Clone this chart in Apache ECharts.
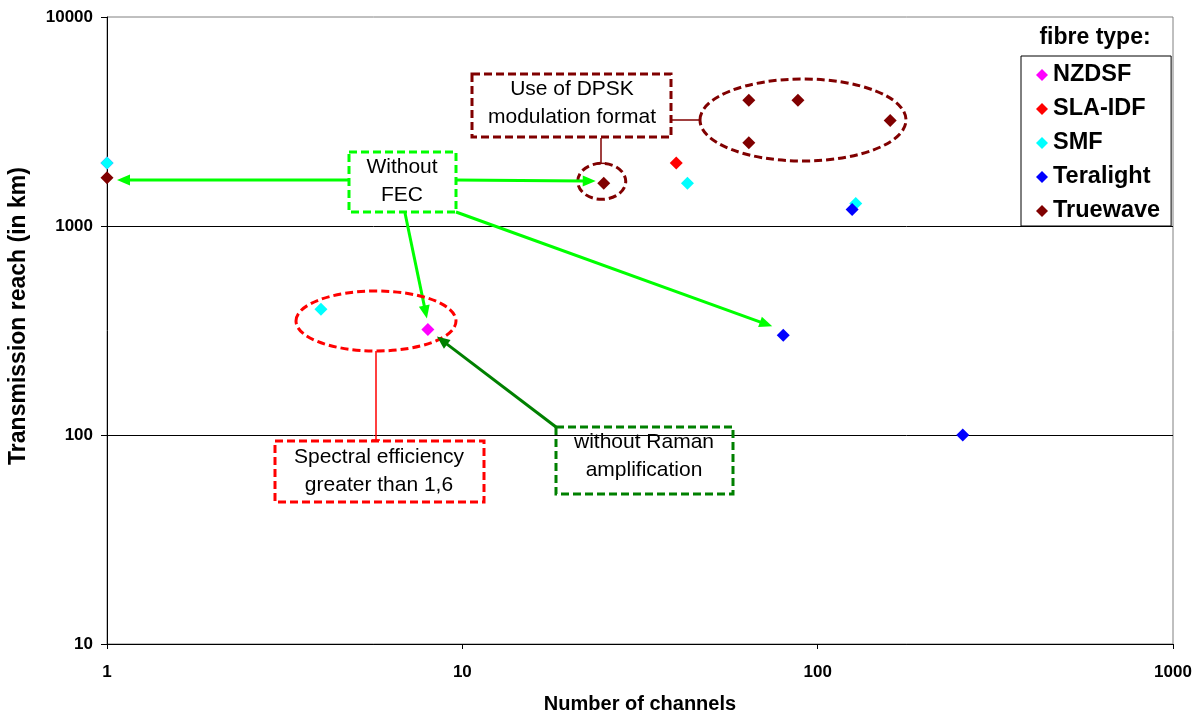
<!DOCTYPE html>
<html>
<head>
<meta charset="utf-8">
<script src="https://cdn.jsdelivr.net/npm/echarts@6/dist/echarts.min.js"></script>
<style>
  html, body { margin: 0; padding: 0; background: #fff; }
  #chart { width: 1200px; height: 715px; }
</style>
</head>
<body>
<div id="chart"></div>
<script>
// Fibre types shown in the legend
const fibreTypes = ['NZDSF', 'SLA-IDF', 'SMF', 'Teralight', 'Truewave'];
const fibreColors = ['#FF00FF', '#FF0000', '#00FFFF', '#0000FF', '#800000'];

// [number of channels, transmission reach in km]
const nzdsf     = [[1, 2000], [8, 320]];
const slaIdf    = [[40, 2000]];
const smf       = [[1, 2000], [4, 400], [43, 1600], [128, 1280]];
const teralight = [[80, 300], [125, 1200], [256, 100]];
const truewave  = [[1, 1700], [25, 1600], [64, 4000], [64, 2500], [88, 4000], [160, 3200]];
const seriesData = [nzdsf, slaIdf, smf, teralight, truewave];

// Axis ranges
const xRange = [1, 1000];
const yRange = [10, 10000];

const FONT = '"Liberation Sans", Arial, sans-serif';

const chart = echarts.init(document.getElementById('chart'), null, { renderer: 'canvas' });

chart.setOption({
  animation: false,
  backgroundColor: '#fff',
  textStyle: { fontFamily: FONT },
  grid: {
    left: 107, right: 27, top: 17, bottom: 71,
    show: true, borderColor: '#808080', borderWidth: 1,
    containLabel: false, outerBoundsMode: 'none'
  },
  legend: {
    orient: 'vertical',
    left: 1021, top: 56,
    itemWidth: 12, itemHeight: 12, itemGap: 10,
    icon: 'diamond',
    borderColor: '#000', borderWidth: 1,
    backgroundColor: '#fff',
    padding: [7, 11, 3, 15],
    selectedMode: false,
    textStyle: { fontFamily: FONT, fontSize: 23.5, fontWeight: 'bold', color: '#000' },
    data: fibreTypes
  },
  xAxis: {
    type: 'log', logBase: 10, min: xRange[0], max: xRange[1],
    name: 'Number of channels', nameLocation: 'middle', nameGap: 50,
    nameTextStyle: { fontFamily: FONT, fontSize: 20, fontWeight: 'bold', color: '#000' },
    axisLine: { lineStyle: { color: '#000', width: 1 } },
    axisTick: { length: 5, lineStyle: { color: '#000' } },
    axisLabel: { fontFamily: FONT, fontSize: 17, fontWeight: 'bold', color: '#000', margin: 20,
      formatter: (v) => String(Math.round(v)) },
    splitLine: { show: false },
    minorTick: { show: false }
  },
  yAxis: {
    type: 'log', logBase: 10, min: yRange[0], max: yRange[1],
    axisLine: { lineStyle: { color: '#000', width: 1 } },
    axisTick: { length: 6, lineStyle: { color: '#000' } },
    axisLabel: { fontFamily: FONT, fontSize: 17, fontWeight: 'bold', color: '#000', margin: 14,
      formatter: (v) => String(Math.round(v)) },
    splitLine: { show: true, showMaxLine: false, lineStyle: { color: '#000', width: 1 } },
    minorTick: { show: false }
  },
  series: fibreTypes.map((name, i) => ({
    name: name,
    type: 'scatter',
    symbol: 'diamond',
    symbolSize: 13,
    itemStyle: { color: fibreColors[i], opacity: 1 },
    emphasis: { disabled: true },
    data: seriesData[i]
  }))
});

// ---- annotations ----
const px = (pt) => chart.convertToPixel({ gridIndex: 0 }, pt);

function arrow(p0, p1, color, width) {
  const dx = p1[0] - p0[0], dy = p1[1] - p0[1];
  const len = Math.hypot(dx, dy);
  const ux = dx / len, uy = dy / len;
  const hl = 13, hw = 5.5;
  const bx = p1[0] - ux * hl, by = p1[1] - uy * hl;
  return [
    { type: 'line', z: 50, shape: { x1: p0[0], y1: p0[1], x2: bx + ux * 2, y2: by + uy * 2 },
      style: { stroke: color, lineWidth: width } },
    { type: 'polygon', z: 50, shape: { points: [[p1[0], p1[1]], [bx - uy * hw, by + ux * hw], [bx + uy * hw, by - ux * hw]] },
      style: { fill: color, stroke: null } }
  ];
}
function dashedBox(x, y, w, h, color) {
  return { type: 'rect', z: 50, shape: { x: x, y: y, width: w, height: h },
    style: { fill: null, stroke: color, lineWidth: 3, lineDash: [8, 4] } };
}
function dashedEllipse(cx, cy, rx, ry, color) {
  return { type: 'ellipse', z: 50, shape: { cx: cx, cy: cy, rx: rx, ry: ry },
    style: { fill: null, stroke: color, lineWidth: 3, lineDash: [8, 4] } };
}
function seg(x1, y1, x2, y2, color, w) {
  return { type: 'line', z: 50, shape: { x1: x1, y1: y1, x2: x2, y2: y2 },
    style: { stroke: color, lineWidth: w } };
}
function label(x, y, text) {
  return { type: 'text', z: 51, x: x, y: y,
    style: { text: text, fill: '#000', font: '21px ' + FONT, align: 'center', verticalAlign: 'middle', lineHeight: 28 } };
}

const LIME = '#00FF00', DKGREEN = '#008000', MAROON = '#800000', RED = '#FF0000';

const pTw1 = px(truewave[0]);
const pTw25 = px(truewave[1]);
const pNz8 = px(nzdsf[1]);
const pTe80 = px(teralight[0]);

const g = [];
// vertical axis title
g.push({ type: 'text', z: 60, x: 19, y: 316, rotation: Math.PI / 2,
  style: { text: 'Transmission reach (in km)', fill: '#000', font: 'bold 23px ' + FONT, align: 'center', verticalAlign: 'middle' } });
// fibre type heading above the legend
g.push({ type: 'text', z: 60, x: 1095, y: 38,
  style: { text: 'fibre type:', fill: '#000', font: 'bold 23px ' + FONT, align: 'center', verticalAlign: 'middle' } });

// "Use of DPSK modulation format"
g.push(dashedBox(472, 74, 199, 63, MAROON));
g.push(label(572, 103, 'Use of DPSK\nmodulation format'));
g.push(dashedEllipse(pTw25[0] - 2, pTw25[1] - 2, 24, 18, MAROON));
g.push(seg(601, 138, 601, pTw25[1] - 20, MAROON, 1.5));
g.push(seg(597, pTw25[1] - 20, 605, pTw25[1] - 20, MAROON, 1.5));
g.push(dashedEllipse(803, 120, 103, 41, MAROON));
g.push(seg(672, 120, 700, 120, MAROON, 1.5));
g.push(seg(700, 116, 700, 124, MAROON, 1.5));

// "Without FEC"
g.push(dashedBox(349, 152, 107, 60, LIME));
g.push(label(402, 181, 'Without\nFEC'));
g.push(...arrow([349, 180], [pTw1[0] + 10, 180], LIME, 3));
g.push(...arrow([456, 180], [pTw25[0] - 8, 181], LIME, 3));
g.push(...arrow([405, 213], [pNz8[0] - 1, pNz8[1] - 11], LIME, 3));
g.push(...arrow([456, 212], [pTe80[0] - 11, pTe80[1] - 9], LIME, 3));

// "Spectral efficiency greater than 1,6"
g.push(dashedEllipse(376, 321, 80, 30, RED));
g.push(dashedBox(275, 441, 209, 61, RED));
g.push(label(379, 471, 'Spectral efficiency\ngreater than 1,6'));
g.push(seg(376, 351, 376, 440, RED, 1.5));
g.push(seg(372, 440, 380, 440, RED, 1.5));

// "without Raman amplification"
g.push(dashedBox(556, 427, 177, 67, DKGREEN));
g.push(label(644, 456, 'without Raman\namplification'));
g.push(...arrow([556, 427], [pNz8[0] + 9, pNz8[1] + 7], DKGREEN, 3));

chart.setOption({ graphic: g });
</script>
</body>
</html>
